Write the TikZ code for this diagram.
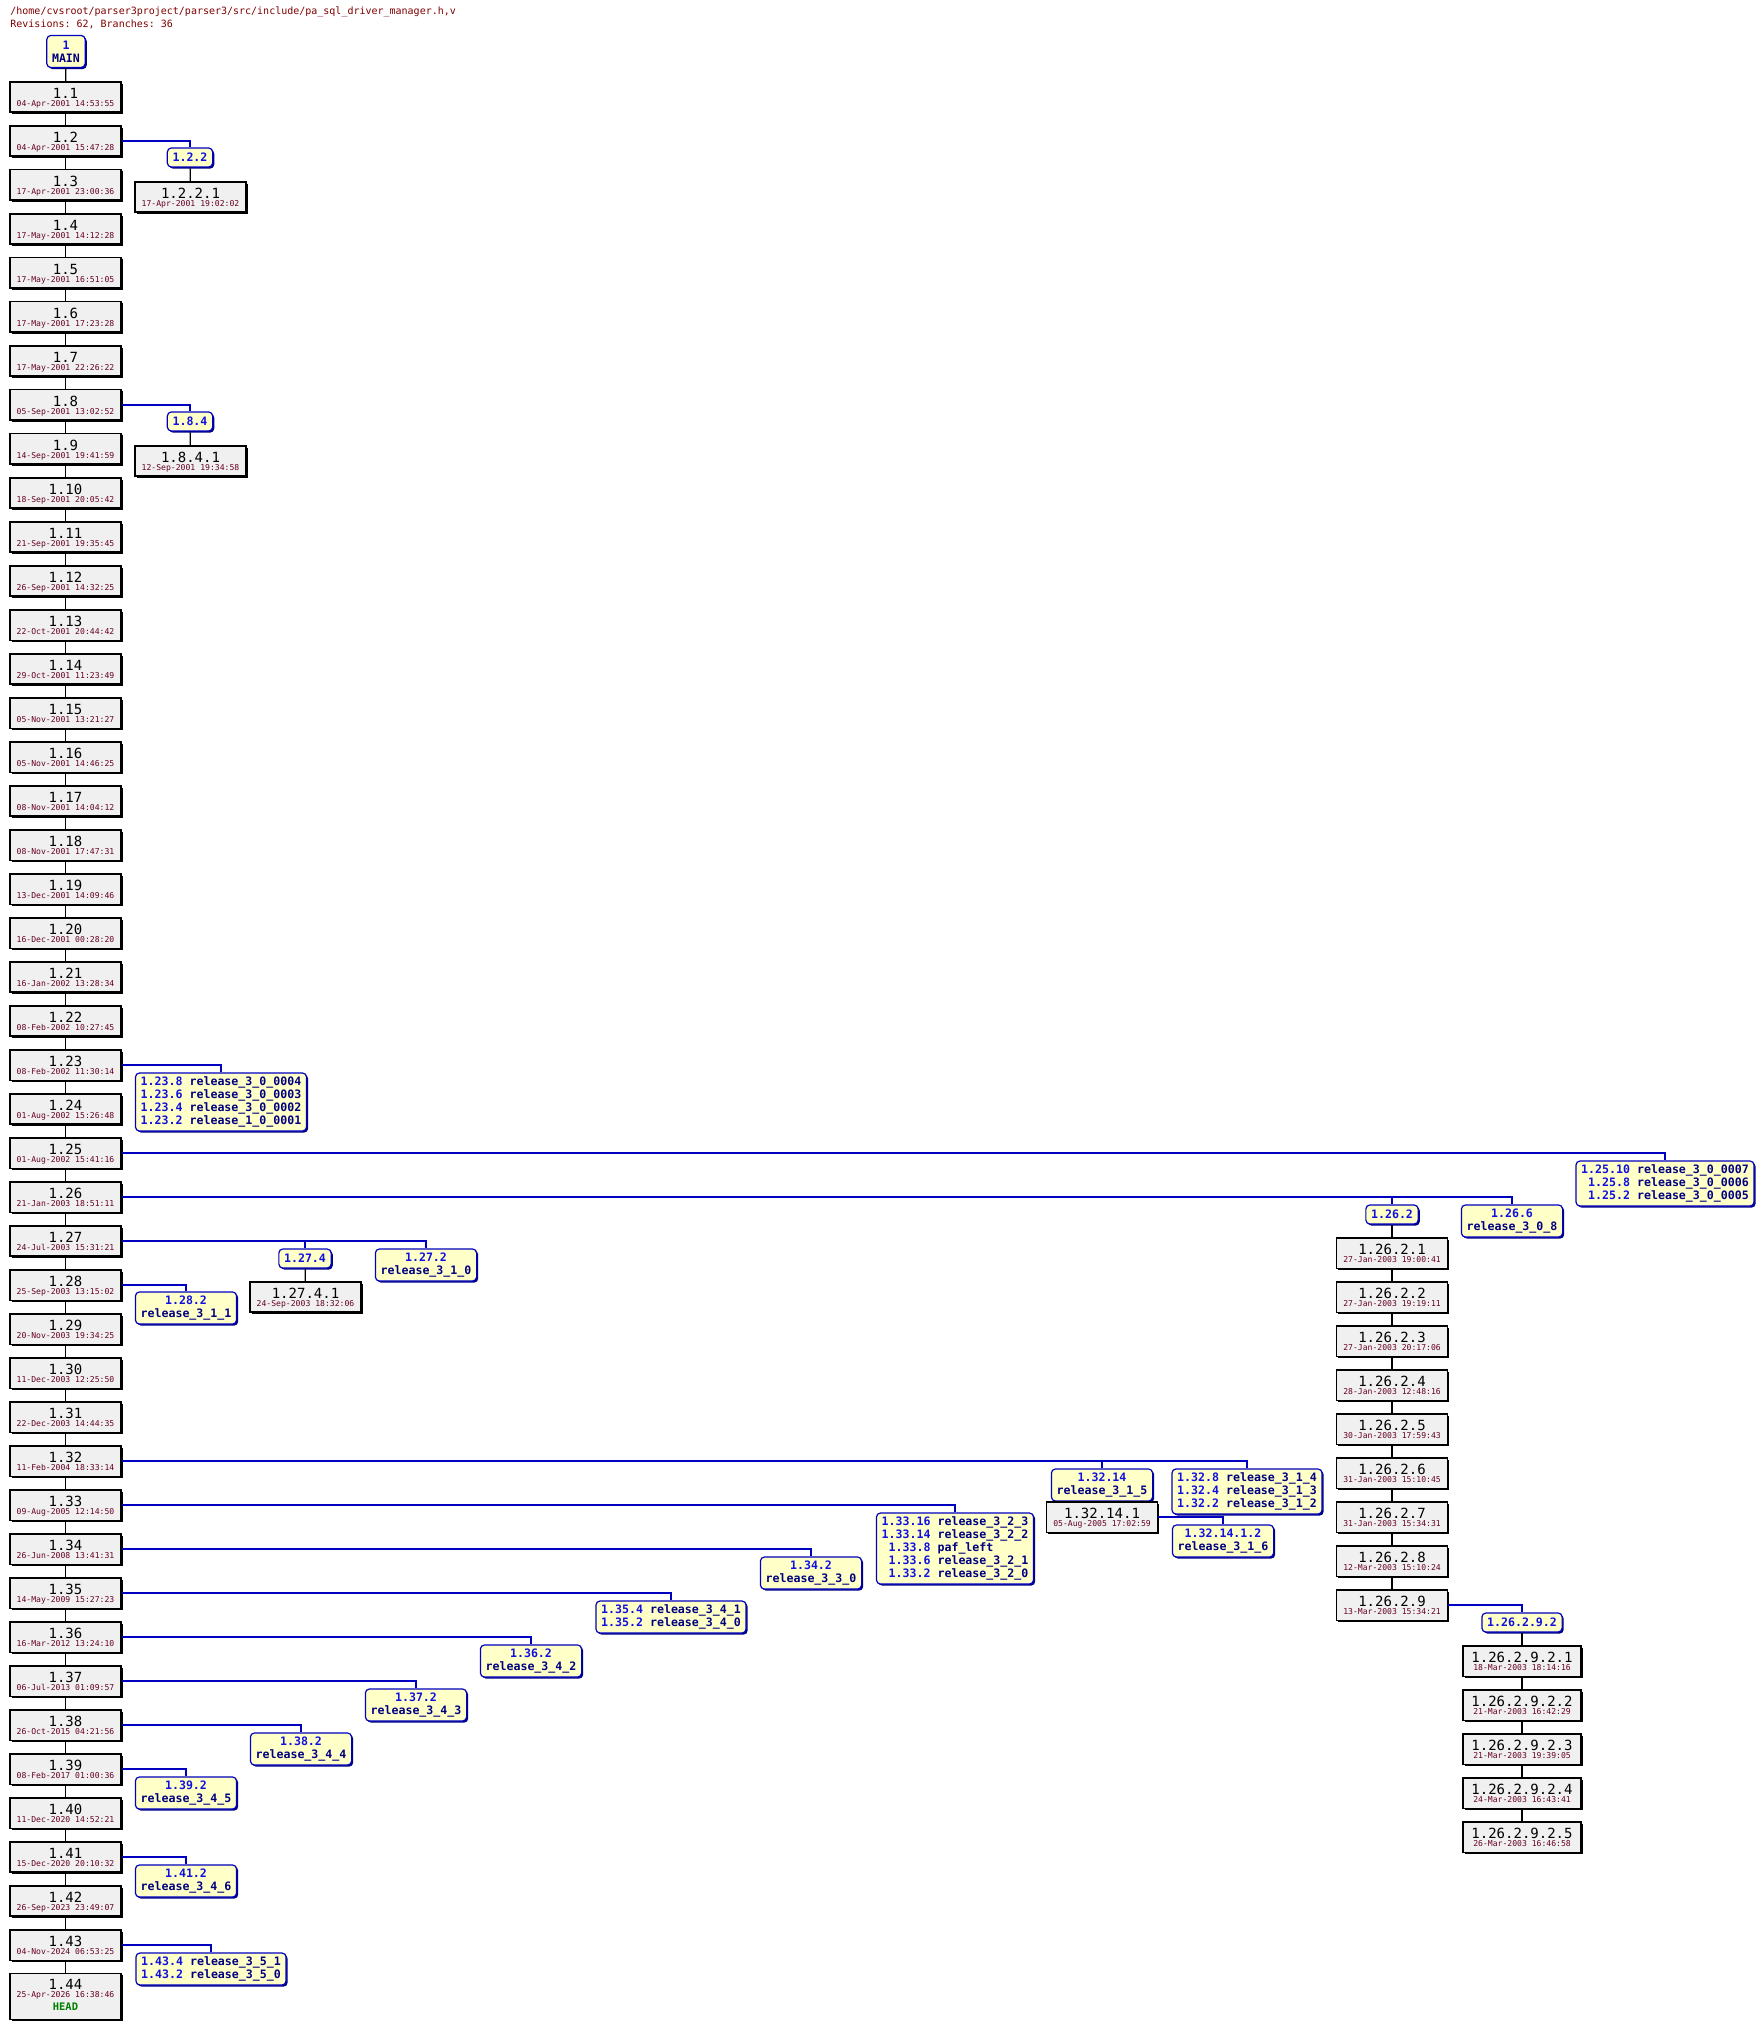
\documentclass[tikz,border=0pt]{standalone}
\usepackage{fontspec}
\setmonofont{DejaVu Sans Mono}
\usetikzlibrary{shadows}
\definecolor{revfill}{HTML}{F0F0F0}
\definecolor{tagfill}{HTML}{FFFFC8}
\definecolor{tagline}{HTML}{0000C0}
\definecolor{tagrev}{HTML}{1010E0}
\definecolor{tagname}{HTML}{000080}
\definecolor{datecol}{HTML}{660022}
\definecolor{titlecol}{HTML}{800000}
\definecolor{headcol}{HTML}{008000}
\newcommand\revf{\ttfamily\fontsize{7}{7}\selectfont}
\newcommand\datef{\ttfamily\fontsize{4.05}{4.05}\selectfont\color{datecol}}
\newcommand\rl[2]{\vbox{\offinterlineskip\hsize=54pt
  \hbox to\hsize{\hss\vrule height 8.35pt width 0pt\revf #1\hss}
  \hbox to\hsize{\hss\vrule height 3.8pt depth 2.85pt width0pt\datef #2\hss}}}
\newcommand\rlh[2]{\vbox{\offinterlineskip\hsize=54pt
  \hbox to\hsize{\hss\vrule height 8.35pt width 0pt\revf #1\hss}
  \hbox to\hsize{\hss\vrule height 3.8pt width0pt\datef #2\hss}
  \hbox to\hsize{\hss\vrule height 5.85pt depth 4.5pt width0pt\ttfamily\bfseries\fontsize{5.2}{5.2}\selectfont\color{headcol}HEAD\hss}}}
\newcommand\tr[1]{\textcolor{tagrev}{#1}}
\newcommand\tn[1]{\textcolor{tagname}{#1}}
\newcommand\ph[1]{\hphantom{#1}}
\tikzset{
  revbox/.style={draw=black,line width=0.6pt,fill=revfill,rectangle,inner sep=0pt,
    minimum width=55.5pt,minimum height=15pt,
    drop shadow={shadow xshift=0.8pt,shadow yshift=-0.8pt,fill=black,opacity=1}},
  wrevbox/.style={revbox,minimum width=59pt},
  tagbox/.style={draw=tagline,line width=0.6pt,fill=tagfill,rounded corners=2pt,
    inner xsep=2.6pt,inner ysep=0pt,
    font=\ttfamily\bfseries\fontsize{5.8}{6.5}\selectfont,
    drop shadow={shadow xshift=0.8pt,shadow yshift=-0.8pt,fill=tagname,opacity=1}},
  tagA/.style={tagbox,align=center,minimum height=9.5pt},
  tagB/.style={tagbox,align=center,minimum height=16pt},
  tagC/.style={tagbox,align=left,minimum height=22.5pt},
  tagD/.style={tagbox,align=left,minimum height=29pt},
  tagE/.style={tagbox,align=left,minimum height=35.5pt},
  trunk/.style={draw=black,line width=0.6pt},
  br/.style={draw=tagline,line width=0.6pt},
}
\begin{document}
\begin{tikzpicture}[x=0.5pt,y=-0.5pt]
\useasboundingbox[fill=white] (0,0) rectangle (1764,2027);
\node[anchor=base west,inner sep=0pt,font=\ttfamily\fontsize{5}{5}\selectfont,text=titlecol] (title1) at (10,15) {/home/cvsroot/parser3project/parser3/src/include/pa\_sql\_driver\_manager.h,v};
\node[anchor=base west,inner sep=0pt,font=\ttfamily\fontsize{5}{5}\selectfont,text=titlecol] (title2) at (10,28) {Revisions: 62, Branches: 36};
\node[tagB] (main) at (66,51.5) {\tr{1}\\\tn{MAIN}};
% trunk
\foreach \n/\d [count=\i] in {1/04-Apr-2001 14:53:55,2/04-Apr-2001 15:47:28,3/17-Apr-2001 23:00:36,4/17-May-2001 14:12:28,5/17-May-2001 16:51:05,6/17-May-2001 17:23:28,7/17-May-2001 22:26:22,8/05-Sep-2001 13:02:52,9/14-Sep-2001 19:41:59,10/18-Sep-2001 20:05:42,11/21-Sep-2001 19:35:45,12/26-Sep-2001 14:32:25,13/22-Oct-2001 20:44:42,14/29-Oct-2001 11:23:49,15/05-Nov-2001 13:21:27,16/05-Nov-2001 14:46:25,17/08-Nov-2001 14:04:12,18/08-Nov-2001 17:47:31,19/13-Dec-2001 14:09:46,20/16-Dec-2001 00:28:20,21/16-Jan-2002 13:28:34,22/08-Feb-2002 10:27:45,23/08-Feb-2002 11:30:14,24/01-Aug-2002 15:26:48,25/01-Aug-2002 15:41:16,26/21-Jan-2003 18:51:11,27/24-Jul-2003 15:31:21,28/25-Sep-2003 13:15:02,29/20-Nov-2003 19:34:25,30/11-Dec-2003 12:25:50,31/22-Dec-2003 14:44:35,32/11-Feb-2004 18:33:14,33/09-Aug-2005 12:14:50,34/26-Jun-2008 13:41:31,35/14-May-2009 15:27:23,36/16-Mar-2012 13:24:10,37/06-Jul-2013 01:09:57,38/26-Oct-2015 04:21:56,39/08-Feb-2017 01:00:36,40/11-Dec-2020 14:52:21,41/15-Dec-2020 20:10:32,42/26-Sep-2023 23:49:07,43/04-Nov-2024 06:53:25}
  {\node[revbox] (r\n) at (65.5,{97+(\i-1)*44}) {\rl{1.\n}{\d}};}
\node[revbox,minimum height=22.5pt] (r44) at (65.5,1996.5) {\rlh{1.44}{25-Apr-2026 16:38:46}};
\draw[trunk] (main) -- (r1);
\foreach \a [evaluate=\a as \b using int(\a+1)] in {1,...,43} {\draw[trunk] (r\a) -- (r\b);}
% branch 1.2
\node[tagA] (t122) at (190,157.5) {\tr{1.2.2}};
\node[revbox] (c1221) at (190.5,197) {\rl{1.2.2.1}{17-Apr-2001 19:02:02}};
\draw[br] (r2.east) -| (t122.north);
\draw[trunk] (t122) -- (c1221);
% branch 1.8
\node[tagA] (t184) at (190,421.5) {\tr{1.8.4}};
\node[revbox] (c1841) at (190.5,461) {\rl{1.8.4.1}{12-Sep-2001 19:34:58}};
\draw[br] (r8.east) -| (t184.north);
\draw[trunk] (t184) -- (c1841);
% 1.23
\node[tagD] (t123) at (221,1102) {\tr{1.23.8} \tn{release\_3\_0\_0004}\\\tr{1.23.6} \tn{release\_3\_0\_0003}\\\tr{1.23.4} \tn{release\_3\_0\_0002}\\\tr{1.23.2} \tn{release\_1\_0\_0001}};
\draw[br] (r23.east) -| (t123.north);
% 1.25
\node[tagC] (t125) at (1665,1183.5) {\tr{1.25.10} \tn{release\_3\_0\_0007}\\\ph{1}\tr{1.25.8} \tn{release\_3\_0\_0006}\\\ph{1}\tr{1.25.2} \tn{release\_3\_0\_0005}};
\draw[br] (r25.east) -| (t125.north);
% 1.26
\node[tagA] (t1262) at (1392,1214.5) {\tr{1.26.2}};
\node[tagB] (t1266) at (1512,1221) {\tr{1.26.6}\\\tn{release\_3\_0\_8}};
\draw[br] (r26.east) -| (t1266.north);
\draw[br] (r26.east) -| (t1262.north);
\foreach \k/\d [count=\i] in {1/27-Jan-2003 19:00:41,2/27-Jan-2003 19:19:11,3/27-Jan-2003 20:17:06,4/28-Jan-2003 12:48:16,5/30-Jan-2003 17:59:43,6/31-Jan-2003 15:10:45,7/31-Jan-2003 15:34:31,8/12-Mar-2003 15:10:24,9/13-Mar-2003 15:34:21}
  {\node[revbox] (b\k) at (1392,{1253+(\i-1)*44}) {\rl{1.26.2.\k}{\d}};}
\draw[trunk] (t1262) -- (b1);
\foreach \a [evaluate=\a as \b using int(\a+1)] in {1,...,8} {\draw[trunk] (b\a) -- (b\b);}
\node[tagA] (t12629) at (1522,1622.5) {\tr{1.26.2.9.2}};
\draw[br] (b9.east) -| (t12629.north);
\foreach \k/\d [count=\i] in {1/18-Mar-2003 18:14:16,2/21-Mar-2003 16:42:29,3/21-Mar-2003 19:39:05,4/24-Mar-2003 16:43:41,5/26-Mar-2003 16:46:58}
  {\node[wrevbox] (d\k) at (1522,{1661+(\i-1)*44}) {\rl{1.26.2.9.2.\k}{\d}};}
\draw[trunk] (t12629) -- (d1);
\foreach \a [evaluate=\a as \b using int(\a+1)] in {1,...,4} {\draw[trunk] (d\a) -- (d\b);}
% 1.27
\node[tagA] (t1274) at (305,1258.5) {\tr{1.27.4}};
\node[tagB] (t1272) at (426,1265) {\tr{1.27.2}\\\tn{release\_3\_1\_0}};
\node[revbox] (c12741) at (305.5,1297) {\rl{1.27.4.1}{24-Sep-2003 18:32:06}};
\draw[br] (r27.east) -| (t1272.north);
\draw[br] (r27.east) -| (t1274.north);
\draw[trunk] (t1274) -- (c12741);
% 1.28
\node[tagB] (t1282) at (186,1308) {\tr{1.28.2}\\\tn{release\_3\_1\_1}};
\draw[br] (r28.east) -| (t1282.north);
% 1.32
\node[tagB] (t13214) at (1102,1485) {\tr{1.32.14}\\\tn{release\_3\_1\_5}};
\node[tagC] (t1328) at (1247,1491.5) {\tr{1.32.8} \tn{release\_3\_1\_4}\\\tr{1.32.4} \tn{release\_3\_1\_3}\\\tr{1.32.2} \tn{release\_3\_1\_2}};
\draw[br] (r32.east) -| (t1328.north);
\draw[br] (r32.east) -| (t13214.north);
\node[revbox] (c132141) at (1102,1517) {\rl{1.32.14.1}{05-Aug-2005 17:02:59}};
\draw[trunk] (t13214) -- (c132141);
\node[tagB] (t1321412) at (1223,1541) {\tr{1.32.14.1.2}\\\tn{release\_3\_1\_6}};
\draw[br] (c132141.east) -| (t1321412.north);
% 1.33
\node[tagE] (t133) at (955,1548.5) {\tr{1.33.16} \tn{release\_3\_2\_3}\\\tr{1.33.14} \tn{release\_3\_2\_2}\\\ph{1}\tr{1.33.8} \tn{paf\_left}\\\ph{1}\tr{1.33.6} \tn{release\_3\_2\_1}\\\ph{1}\tr{1.33.2} \tn{release\_3\_2\_0}};
\draw[br] (r33.east) -| (t133.north);
% 1.34 - 1.43
\node[tagB] (t134) at (811,1573) {\tr{1.34.2}\\\tn{release\_3\_3\_0}};
\draw[br] (r34.east) -| (t134.north);
\node[tagB] (t135) at (671,1617) {\tr{1.35.4} \tn{release\_3\_4\_1}\\\tr{1.35.2} \tn{release\_3\_4\_0}};
\draw[br] (r35.east) -| (t135.north);
\node[tagB] (t136) at (531,1661) {\tr{1.36.2}\\\tn{release\_3\_4\_2}};
\draw[br] (r36.east) -| (t136.north);
\node[tagB] (t137) at (416,1705) {\tr{1.37.2}\\\tn{release\_3\_4\_3}};
\draw[br] (r37.east) -| (t137.north);
\node[tagB] (t138) at (301,1749) {\tr{1.38.2}\\\tn{release\_3\_4\_4}};
\draw[br] (r38.east) -| (t138.north);
\node[tagB] (t139) at (186,1793) {\tr{1.39.2}\\\tn{release\_3\_4\_5}};
\draw[br] (r39.east) -| (t139.north);
\node[tagB] (t141) at (186,1881) {\tr{1.41.2}\\\tn{release\_3\_4\_6}};
\draw[br] (r41.east) -| (t141.north);
\node[tagB] (t143) at (211,1969) {\tr{1.43.4} \tn{release\_3\_5\_1}\\\tr{1.43.2} \tn{release\_3\_5\_0}};
\draw[br] (r43.east) -| (t143.north);
\end{tikzpicture}
\end{document}
